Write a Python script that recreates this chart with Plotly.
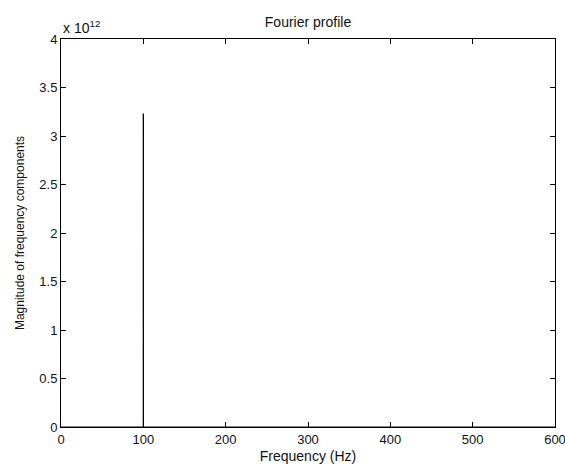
import plotly.graph_objects as go

# Magnitude spectrum: a single 100 Hz component over a flat floor
freq_hz = [0, 99.9, 100, 100.1, 600]
magnitude = [0, 0, 3.23e12, 0, 0]

x_ticks = [0, 100, 200, 300, 400, 500, 600]
y_ticks = [0, 0.5e12, 1e12, 1.5e12, 2e12, 2.5e12, 3e12, 3.5e12, 4e12]
y_tick_text = ["0", "0.5", "1", "1.5", "2", "2.5", "3", "3.5", "4"]

family = "Liberation Sans, Arial, sans-serif"
tick_font = dict(family=family, size=13, color="#111")
label_font = dict(family=family, size=14, color="#111")
ylabel_font = dict(family=family, size=12, color="#111")

fig = go.Figure(
    go.Scatter(
        x=freq_hz,
        y=magnitude,
        mode="lines",
        line=dict(color="black", width=1),
        showlegend=False,
    )
)

axis_common = dict(
    showgrid=False,
    zeroline=False,
    showline=True,
    linecolor="black",
    linewidth=1,
    mirror="ticks",
    ticks="inside",
    ticklen=5,
    tickcolor="black",
    tickfont=tick_font,
    ticklabeloverflow="allow",
    automargin=False,
)

fig.update_xaxes(
    range=[0, 600],
    tickvals=x_ticks,
    ticktext=[str(v) for v in x_ticks],
    title=dict(text="Frequency (Hz)", font=label_font, standoff=5),
    **axis_common,
)
fig.update_yaxes(
    range=[0, 4e12],
    tickvals=y_ticks,
    ticktext=y_tick_text,
    title=dict(text="Magnitude of frequency components", font=ylabel_font, standoff=12),
    **axis_common,
)

fig.update_layout(
    width=565,
    height=470,
    margin=dict(l=61, r=10, t=39, b=43),
    paper_bgcolor="white",
    plot_bgcolor="white",
    font=tick_font,
    title=dict(
        text="Fourier profile",
        font=label_font,
        x=0.5,
        xref="paper",
        xanchor="center",
        y=1 - 22 / 470,
        yref="container",
        yanchor="middle",
    ),
    annotations=[
        dict(
            text="x 10<sup>12</sup>",
            xref="paper",
            yref="paper",
            x=0,
            y=1,
            xanchor="left",
            yanchor="bottom",
            yshift=1,
            showarrow=False,
            font=dict(family=family, size=14, color="#111"),
        )
    ],
)

fig.write_html("out.html")
